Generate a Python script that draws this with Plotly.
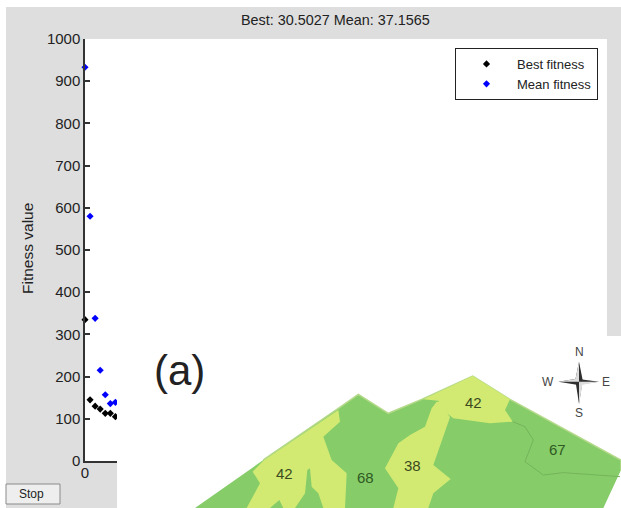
import plotly.graph_objects as go

generations = [0, 1, 2, 3, 4, 5, 6]
best_fitness = [335, 145, 130, 123, 113, 113, 105]
mean_fitness = [933, 580, 338, 215, 157, 136, 139]
y_ticks = list(range(0, 1001, 100))
title_text = "Best: 30.5027 Mean: 37.1565"
FONT = "Liberation Sans, Arial, sans-serif"

W, H = 621, 508
L, R, T, B = 85, 607, 39, 461
GRAY = "#dedede"
LIGHT = "#d2ea72"
GREEN = "#86cd69"


def X(p):
    return (p - L) / (R - L)


def Y(p):
    return (B - p) / (B - T)


def rect(x0, y0, x1, y1, fill, line=None, layer="above", w=1):
    return dict(type="rect", xref="paper", yref="paper", x0=X(x0), x1=X(x1), y0=Y(y0), y1=Y(y1),
                fillcolor=fill, line=dict(color=line or fill, width=w if line else 0), layer=layer)


def zoom_poly(pts, fill, line=None, w=1):
    # outlines were traced on a 3x crop whose origin is (180, 330)
    d = "M" + " L".join(f"{X(a / 3 + 180):.4f},{Y(b / 3 + 330):.4f}" for a, b in pts)
    if fill != "rgba(0,0,0,0)":
        d += " Z"
    return dict(type="path", xref="paper", yref="paper", path=d, fillcolor=fill,
                line=dict(color=line or fill, width=w if line else 0), layer="above")


def text(px, py, s, size, color="#222222", **kw):
    return dict(x=X(px), y=Y(py), xref="paper", yref="paper", text=s, showarrow=False,
                font=dict(family=FONT, size=size, color=color), xanchor="center", yanchor="middle", **kw)


outline = [(45, 534), (250, 390), (475, 235), (535, 193), (625, 250), (725, 208), (878, 138),
           (990, 208), (1323, 390), (1323, 420), (1270, 534)]
west_patch = [(475, 240), (480, 275), (430, 320), (455, 390), (500, 430), (495, 534), (430, 534),
              (415, 490), (395, 470), (390, 415), (382, 420), (375, 490), (345, 534), (310, 534),
              (298, 510), (270, 534), (200, 534), (240, 460), (218, 425), (250, 392)]
middle_patch = [(770, 215), (780, 215), (810, 262), (760, 405), (812, 447), (760, 490), (745, 534),
                (640, 534), (655, 475), (615, 415), (655, 340), (690, 315), (735, 290), (755, 235)]
north_patch = [(730, 208), (878, 138), (990, 208), (975, 240), (998, 275), (930, 280), (820, 265),
               (795, 245), (775, 212)]
boundary = [(998, 275), (1035, 290), (1060, 330), (1035, 395), (1090, 435), (1150, 428), (1320, 440)]
star_v = [(1197, 95), (1208, 150), (1197, 222), (1186, 150)]
star_h = [(1135, 155), (1190, 146), (1257, 155), (1190, 164)]
star_d = [(1197, 95), (1197, 155), (1186, 150)]
star_e = [(1257, 155), (1197, 155), (1208, 164)]
star_s = [(1197, 222), (1197, 155), (1208, 160)]
star_w = [(1135, 155), (1197, 155), (1190, 146)]

shapes = [
    rect(-5, -5, W + 5, 7, "white"),
    rect(-5, -5, 6, H + 5, "white"),
    rect(117, 336, W + 5, H + 5, "white"),
    rect(6, 484, 60, 504, "#eeeeee", "#8a8a8a"),
    zoom_poly(outline, GREEN),
    zoom_poly(outline[1:10], "rgba(0,0,0,0)", "#b5d98a", 1.5),
    zoom_poly(west_patch, LIGHT),
    zoom_poly(middle_patch, LIGHT),
    zoom_poly(north_patch, LIGHT),
    zoom_poly(boundary, "rgba(0,0,0,0)", "#74b45c", 1),
    zoom_poly(star_v, "#303030"),
    zoom_poly(star_h, "#303030"),
    zoom_poly(star_d, "#dddddd"),
    zoom_poly(star_e, "#dddddd"),
    zoom_poly(star_s, "#dddddd"),
    zoom_poly(star_w, "#dddddd"),
]

annotations = [
    text(335, 20, title_text, 14.4),
    text(27, 249, "Fitness value", 15.5, textangle=-90),
    text(31, 494, "Stop", 12),
    text(179, 370, "(a)", 42, "#222222"),
    text(284, 474, "42", 15, "#3c4a1e"),
    text(365, 477, "68", 15, "#2f5a22"),
    text(412, 465, "38", 15, "#3c4a1e"),
    text(473, 402, "42", 15, "#3c4a1e"),
    text(557, 449, "67", 15, "#2f5a22"),
    text(579, 352, "N", 12, "#444444"),
    text(579, 413, "S", 12, "#444444"),
    text(548, 382, "W", 12, "#444444"),
    text(606, 382, "E", 12, "#444444"),
]

fig = go.Figure()
fig.add_trace(go.Scatter(x=generations, y=best_fitness, mode="markers", name="Best fitness", cliponaxis=False,
                         marker=dict(symbol="diamond", size=5.5, color="#000000")))
fig.add_trace(go.Scatter(x=generations, y=mean_fitness, mode="markers", name="Mean fitness", cliponaxis=False,
                         marker=dict(symbol="diamond", size=5.5, color="#0000ff")))
axis = dict(showgrid=False, zeroline=False, showline=True, linecolor="#333333", linewidth=1.5,
            ticks="inside", ticklen=5, tickcolor="#333333", tickwidth=1.5,
            tickfont=dict(family=FONT, size=15, color="#222222"))
fig.update_layout(
    width=W, height=H, autosize=False,
    margin=dict(l=L, r=W - R, t=T, b=H - B, pad=0),
    paper_bgcolor=GRAY, plot_bgcolor="white",
    xaxis=dict(range=[0, 103], tickvals=[0], ticklabelstandoff=-3, **axis),
    yaxis=dict(range=[0, 1000], tickvals=y_ticks, **axis),
    legend=dict(x=X(455), y=Y(48), xanchor="left", yanchor="top", bgcolor="white", bordercolor="#222222",
                borderwidth=1, font=dict(family=FONT, size=13, color="#222222"), itemwidth=51),
    shapes=shapes, annotations=annotations, showlegend=True,
)
fig.write_html("out.html", post_script="document.body.style.margin='0';", config=dict(displayModeBar=False))
